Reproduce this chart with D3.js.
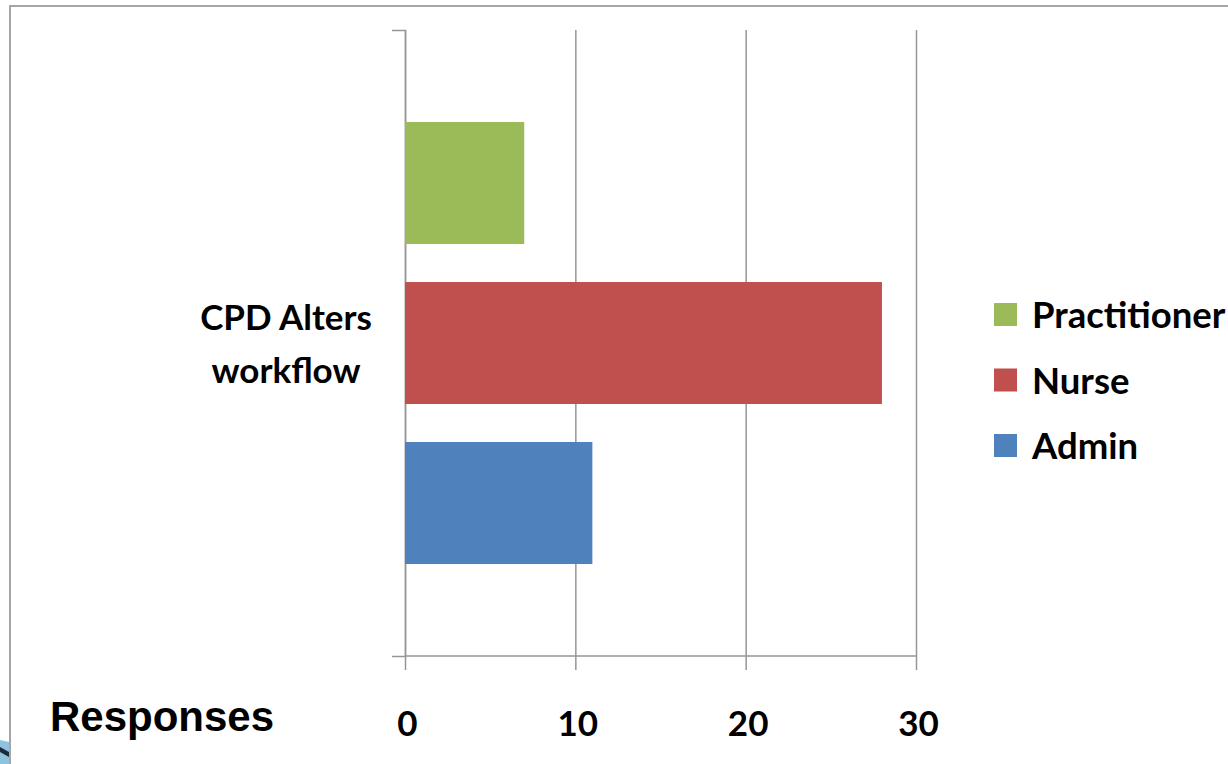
<!DOCTYPE html>
<html>
<head>
<meta charset="utf-8">
<script src="https://cdn.jsdelivr.net/npm/d3@7"></script>
<style>
  body { margin: 0; background: #fff; }
  svg { display: block; }
</style>
</head>
<body>
<div id="chart"></div>
<script>
// data
var categories = ["CPD Alters workflow"];
var seriesNames = ["Practitioner", "Nurse", "Admin"];
var seriesColors = ["#9BBB59", "#C0504D", "#4F81BD"];
var practitionerValues = [7];
var nurseValues = [28];
var adminValues = [11];
var xTicks = [0, 10, 20, 30];
var axisTitle = "Responses";

var seriesValues = [practitionerValues, nurseValues, adminValues];

var width = 1228, height = 764;
var svg = d3.select("#chart").append("svg")
  .attr("width", width)
  .attr("height", height);

// slide frame
svg.append("rect")
  .attr("x", 10).attr("y", 6)
  .attr("width", width + 20).attr("height", height + 20)
  .attr("fill", "none")
  .attr("stroke", "#a6a6a6")
  .attr("stroke-width", 2);

// little corner swirl from the slide
svg.append("path")
  .attr("d", "M0,740 L9,742 L9,764 L0,764 Z")
  .attr("fill", "#8ec3df");
svg.append("path")
  .attr("d", "M0,747 L9,752 L9,757 L0,752 Z")
  .attr("fill", "#1d2a3a");

var plot = { left: 405, right: 916, top: 30, bottom: 656 };

var x = d3.scaleLinear()
  .domain([0, 30])
  .range([plot.left, plot.right]);

var yCat = d3.scaleBand()
  .domain(categories)
  .range([plot.top, plot.bottom]);

var ySeries = d3.scaleBand()
  .domain(seriesNames)
  .range([0, yCat.bandwidth()])
  .paddingInner(0.2375)
  .paddingOuter(0.575);

var lineColor = "#969696";
var labelFont = "Lato, 'Open Sans', sans-serif";

// vertical gridlines + x ticks (they run below the axis)
var xAxis = d3.axisBottom(x)
  .tickValues(xTicks)
  .tickSizeInner(-(670 - plot.top))
  .tickSizeOuter(0)
  .tickPadding(41);

var gx = svg.append("g")
  .attr("transform", "translate(0,670)")
  .call(xAxis);
gx.select(".domain").remove();
gx.selectAll(".tick line")
  .attr("stroke", lineColor)
  .attr("stroke-width", 1.5);
gx.selectAll(".tick text")
  .attr("fill", "#000")
  .style("font-family", labelFont)
  .style("font-weight", "bold")
  .style("font-size", "35px")
  .attr("dx", 2);

// category axis
var yAxis = d3.axisLeft(yCat)
  .tickSizeInner(0)
  .tickSizeOuter(13)
  .tickFormat("");
var gy = svg.append("g")
  .attr("transform", "translate(" + plot.left + ",0)")
  .call(yAxis);
gy.select(".domain")
  .attr("stroke", lineColor)
  .attr("stroke-width", 1.5);

// horizontal axis line
svg.append("line")
  .attr("x1", plot.left).attr("x2", plot.right)
  .attr("y1", plot.bottom).attr("y2", plot.bottom)
  .attr("stroke", lineColor)
  .attr("stroke-width", 1.5);

// bars
categories.forEach(function(cat, ci) {
  seriesNames.forEach(function(name, si) {
    var v = seriesValues[si][ci];
    svg.append("rect")
      .attr("x", x(0))
      .attr("y", yCat(cat) + ySeries(name))
      .attr("width", x(v) - x(0))
      .attr("height", ySeries.bandwidth())
      .attr("fill", seriesColors[si]);
  });
});

// category label, two lines
var catLabel = svg.append("text")
  .attr("text-anchor", "middle")
  .attr("fill", "#000")
  .style("font-family", labelFont)
  .style("font-weight", "bold")
  .style("font-size", "35px");
var words = categories[0].split(" ");
catLabel.append("tspan")
  .attr("x", 286).attr("y", 330)
  .text(words.slice(0, 2).join(" "));
catLabel.append("tspan")
  .attr("x", 286).attr("y", 383)
  .text(words.slice(2).join(" "));

// legend
var legend = svg.append("g");
seriesNames.forEach(function(name, i) {
  var ly = 303 + i * 65.5;
  legend.append("rect")
    .attr("x", 994).attr("y", ly)
    .attr("width", 23).attr("height", 23)
    .attr("fill", seriesColors[i]);
  legend.append("text")
    .attr("x", 1032).attr("y", ly + 25)
    .attr("fill", "#000")
    .style("font-family", labelFont)
    .style("font-weight", "bold")
    .style("font-size", "36.5px")
    .text(name);
});

// axis title
svg.append("text")
  .attr("x", 50).attr("y", 731)
  .attr("fill", "#000")
  .style("font-family", "'Liberation Sans', Arial, sans-serif")
  .style("font-weight", "bold")
  .style("font-size", "42px")
  .text(axisTitle);
</script>
</body>
</html>
